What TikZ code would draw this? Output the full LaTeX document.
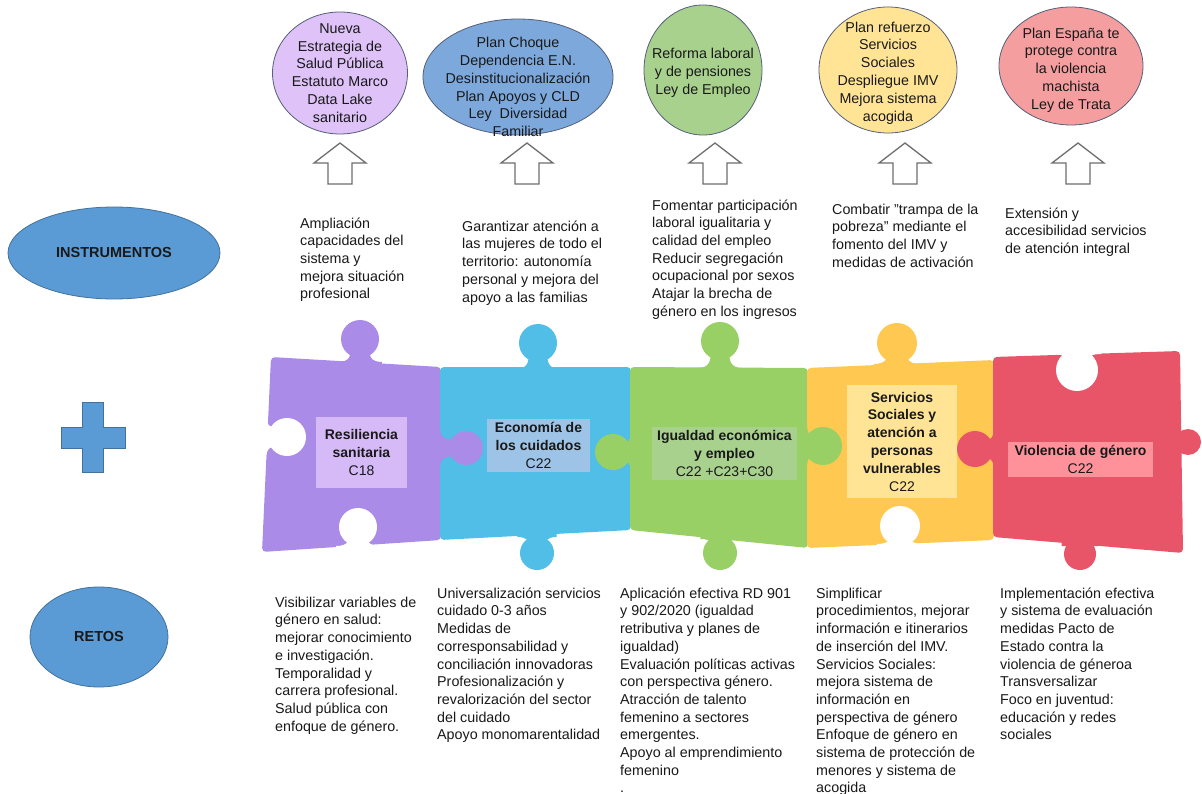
\documentclass[tikz,border=0pt]{standalone}
\usepackage{fontspec}
\setmainfont{Liberation Sans}
\usetikzlibrary{shapes.geometric}

\definecolor{txt}{RGB}{25,25,25}
\definecolor{ellline}{RGB}{85,95,120}
\definecolor{cPurE}{RGB}{222,194,248}
\definecolor{cBluE}{RGB}{125,168,220}
\definecolor{cGreE}{RGB}{169,209,142}
\definecolor{cYelE}{RGB}{255,228,150}
\definecolor{cRedE}{RGB}{244,158,160}
\definecolor{mainblue}{RGB}{91,155,213}
\definecolor{mainblueline}{RGB}{65,113,156}
\definecolor{arrgray}{RGB}{110,110,110}
\definecolor{pPur}{RGB}{170,140,232}
\definecolor{pBlu}{RGB}{80,190,230}
\definecolor{pGre}{RGB}{152,208,102}
\definecolor{pYel}{RGB}{255,200,80}
\definecolor{pRed}{RGB}{232,85,105}
\definecolor{bPur}{RGB}{214,186,248}
\definecolor{bBlu}{RGB}{157,195,230}
\definecolor{bGre}{RGB}{169,209,142}
\definecolor{bYel}{RGB}{255,228,150}
\definecolor{bRed}{RGB}{255,145,155}

\newcommand\tstrut{\rule{0pt}{12.4pt}}
% knob: colour, edge x, edge y, distance to head centre, head radius, rotation
\newcommand\knob[6]{\begin{scope}[shift={(#2,#3)}, rotate=#6]
  \fill[#1] (0,-#4) circle[radius=#5];
  \fill[#1] ({-1.15*#5},3) -- ({-1.15*#5},0) .. controls ({-0.55*#5},0) and ({-0.45*#5},{-0.3*#4}) .. ({-0.5*#5},{-#4+0.5*#5}) -- ({0.5*#5},{-#4+0.5*#5}) .. controls ({0.45*#5},{-0.3*#4}) and ({0.55*#5},0) .. ({1.15*#5},0) -- ({1.15*#5},3) -- cycle;
\end{scope}}
\newcommand\uparr[1]{\draw[arrowup] (#1,143) -- ({#1+26},163) -- ({#1+12},163) -- ({#1+12},184) -- ({#1-12},184) -- ({#1-12},163) -- ({#1-26},163) -- cycle;}

\tikzset{
  bodytext/.style={font=\fontsize{14.3}{17.7}\selectfont, align=left, anchor=north west, inner sep=0pt, text=txt},
  ell/.style={ellipse, draw=ellline, line width=0.8pt, inner sep=0pt},
  etext/.style={font=\fontsize{14.3}{17.8}\selectfont, align=center, inner sep=0pt, text=txt},
  arrowup/.style={draw=arrgray, fill=white, line width=1.3pt, line join=miter},
  piecebox/.style={font=\fontsize{14}{17.8}\selectfont, align=center, inner sep=0pt, text=txt},
  mainell/.style={ellipse, draw=mainblueline, fill=mainblue, line width=0.8pt, inner sep=0pt, font=\bfseries\fontsize{14.5}{16}\selectfont, text=txt},
}

\begin{document}
\begin{tikzpicture}[x=1pt,y=-1pt]
\useasboundingbox[fill=white] (0,0) rectangle (1202,794);

% ---------- top ellipses ----------
\node[ell, fill=cPurE, minimum width=135pt, minimum height=122pt] (e1) at (340,73) {};
\node[etext] (t1) at (340,73) {Nueva\\Estrategia de\\Salud Pública\\Estatuto Marco\\Data Lake\\sanitario};
\node[ell, fill=cBluE, minimum width=190pt, minimum height=116pt] (e2) at (518,77) {};
\node[etext] (t2) at (518,87) {Plan Choque\\Dependencia E.N.\\Desinstitucionalización\\Plan Apoyos y CLD\\Ley\ \ Diversidad\\Familiar};
\node[ell, fill=cGreE, minimum width=118pt, minimum height=130pt] (e3) at (703,70) {};
\node[etext] (t3) at (703,73) {Reforma laboral\\y de pensiones\\Ley de Empleo};
\node[ell, fill=cYelE, minimum width=138pt, minimum height=126pt] (e4) at (888,70) {};
\node[etext] (t4) at (888,73) {Plan refuerzo\\Servicios\\Sociales\\Despliegue IMV\\Mejora sistema\\acogida};
\node[ell, fill=cRedE, minimum width=144pt, minimum height=118pt] (e5) at (1071,66) {};
\node[etext] (t5) at (1071,70) {Plan España te\\protege contra\\la violencia\\machista\\Ley de Trata};

% ---------- up arrows ----------
\uparr{340}
\uparr{527}
\uparr{715}
\uparr{905}
\uparr{1078}

% ---------- instrument texts ----------
\node[bodytext] (i1) at (300,215.6) {\tstrut Ampliación\\capacidades del\\sistema y\\mejora situación\\profesional};
\node[bodytext] (i2) at (462,218.6) {\tstrut Garantizar atención a\\las mujeres de todo el\\territorio: autonomía\\personal y mejora del\\apoyo a las familias};
\node[bodytext] (i3) at (652,197.6) {\tstrut Fomentar participación\\laboral igualitaria y\\calidad del empleo\\Reducir segregación\\ocupacional por sexos\\Atajar la brecha de\\género en los ingresos};
\node[bodytext] (i4) at (832,201.6) {\tstrut Combatir \char34 trampa de la\\pobreza\char34\ mediante el\\fomento del IMV y\\medidas de activación};
\node[bodytext] (i5) at (1005,205.6) {\tstrut Extensión y\\accesibilidad servicios\\de atención integral};

% ---------- left labels ----------
\node[mainell, minimum width=212pt, minimum height=92pt] (instr) at (114,253) {INSTRUMENTOS};
\node[mainell, minimum width=138pt, minimum height=100pt] (retos) at (99,637) {RETOS};
\draw[fill=mainblue, draw=mainblueline, line width=0.8pt]
  (82,402) -- (103,402) -- (103,427) -- (125,427) -- (125,448) -- (103,448) -- (103,472) -- (82,472) -- (82,448) -- (61,448) -- (61,427) -- (82,427) -- cycle;

% ---------- puzzle bodies ----------
\fill[pPur, rounded corners=4pt] (271,357) -- (441,367) -- (441,540) -- (262,552) -- cycle;
\fill[pBlu, rounded corners=4pt] (440,367) -- (631,367) -- (631,530) -- (440,540) -- cycle;
\fill[pGre, rounded corners=4pt] (630,367) -- (808,368) -- (808,548) -- (630,530) -- cycle;
\fill[pYel, rounded corners=4pt] (807,368) -- (994,360) -- (994,540) -- (807,548) -- cycle;
\fill[pRed, rounded corners=4pt] (993,357) -- (1180,351) -- (1183,553) -- (993,537) -- cycle;

% tabs
\knob{pPur}{360}{362}{23}{19}{0}
\knob{pPur}{440}{448}{26}{17}{-90}
\knob{pBlu}{538}{369}{26}{19}{0}
\knob{pBlu}{537}{537}{16}{17}{180}
\knob{pGre}{631}{452}{18}{18}{90}
\knob{pGre}{720}{368}{27}{19}{0}
\knob{pGre}{720}{539}{14}{17}{180}
\knob{pGre}{807}{446}{16}{19}{-90}
\knob{pYel}{897}{364}{21}{20}{0}
\knob{pRed}{994}{449}{19}{18}{90}
\knob{pRed}{1181}{442}{7}{13}{-90}
\knob{pRed}{1080}{546}{8}{16}{180}
% slots (white)
\knob{white}{266}{437}{21}{19}{-90}
\knob{white}{358}{546}{19}{19}{0}
\knob{white}{900}{544}{18}{20}{0}
\knob{white}{1077}{354}{16}{21}{180}

% piece labels
\node[piecebox, fill=bPur, minimum width=91pt, minimum height=71pt] (p1) at (361.5,452.5) {\textbf{Resiliencia}\\\textbf{sanitaria}\\C18};
\node[piecebox, fill=bBlu, minimum width=103pt, minimum height=53pt] (p2) at (538.5,445.5) {\textbf{Economía de}\\\textbf{los cuidados}\\C22};
\node[piecebox, fill=bGre, minimum width=145pt, minimum height=53pt] (p3) at (724.5,453.5) {\textbf{Igualdad económica}\\\textbf{y empleo}\\C22 +C23+C30};
\node[piecebox, fill=bYel, minimum width=110pt, minimum height=113pt] (p4) at (902,441.5) {\textbf{Servicios}\\\textbf{Sociales y}\\\textbf{atención a}\\\textbf{personas}\\\textbf{vulnerables}\\C22};
\node[piecebox, fill=bRed, minimum width=145pt, minimum height=35pt] (p5) at (1080.5,459.5) {\textbf{Violencia de género}\\C22};

% ---------- retos texts ----------
\node[bodytext] (r1) at (275,594.6) {\tstrut Visibilizar variables de\\género en salud:\\mejorar conocimiento\\e investigación.\\Temporalidad y\\carrera profesional.\\Salud pública con\\enfoque de género.};
\node[bodytext] (r2) at (437,585.6) {\tstrut Universalización servicios\\cuidado 0-3 años\\Medidas de\\corresponsabilidad y\\conciliación innovadoras\\Profesionalización y\\revalorización del sector\\del cuidado\\Apoyo monomarentalidad};
\node[bodytext] (r3) at (620,585.6) {\tstrut Aplicación efectiva RD 901\\y 902/2020 (igualdad\\retributiva y planes de\\igualdad)\\Evaluación políticas activas\\con perspectiva género.\\Atracción de talento\\femenino a sectores\\emergentes.\\Apoyo al emprendimiento\\femenino\\.};
\node[bodytext] (r4) at (816,585.6) {\tstrut Simplificar\\procedimientos, mejorar\\información e itinerarios\\de inserción del IMV.\\Servicios Sociales:\\mejora sistema de\\información en\\perspectiva de género\\Enfoque de género en\\sistema de protección de\\menores y sistema de\\acogida};
\node[bodytext] (r5) at (1000,585.6) {\tstrut Implementación efectiva\\y sistema de evaluación\\medidas Pacto de\\Estado contra la\\violencia de géneroa\\Transversalizar\\Foco en juventud:\\educación y redes\\sociales};
\end{tikzpicture}
\end{document}
